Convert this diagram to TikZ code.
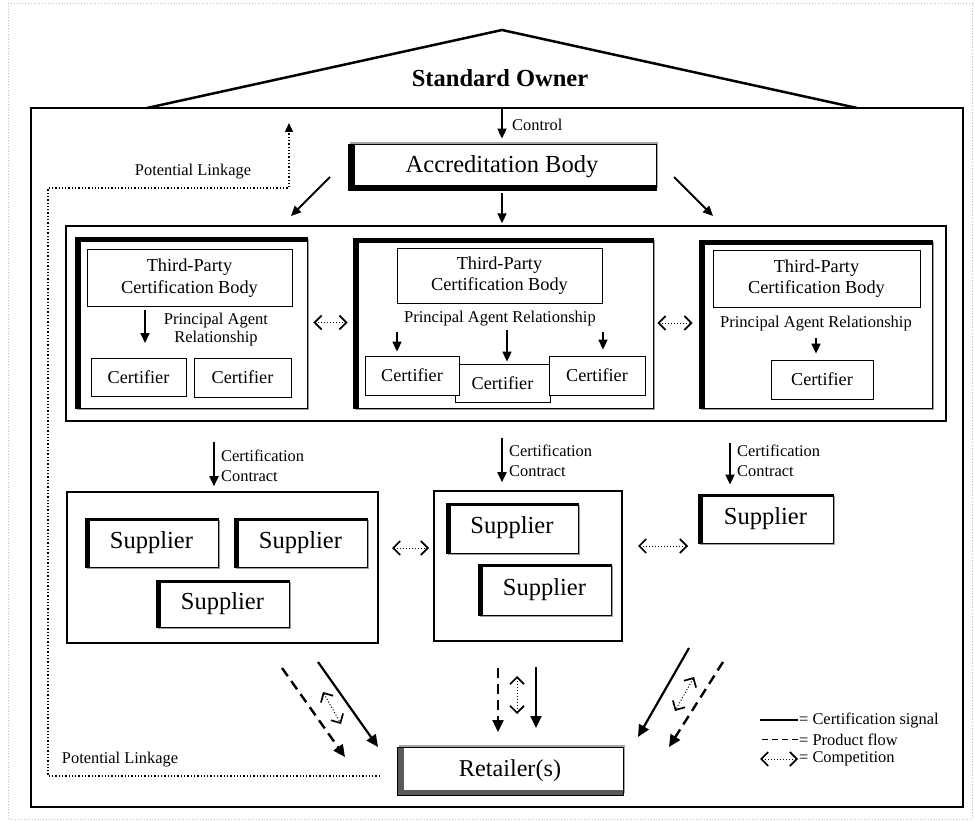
\documentclass[tikz,border=0pt]{standalone}
\usepackage{fontspec}
\setmainfont{Liberation Serif}
\usetikzlibrary{arrows.meta,shadows}

\newcommand{\fs}[2]{\fontsize{#1}{#2}\selectfont}

\begin{document}
\begin{tikzpicture}[x=1pt,y=-1pt,
	sig/.style={-{Triangle[length=10pt,width=9pt]},line width=1.8pt},
	sigbig/.style={-{Triangle[length=12pt,width=11pt]},line width=2.2pt},
	flow/.style={-{Triangle[length=12pt,width=11pt]},line width=2.4pt,dash pattern=on 10pt off 6pt},
	comp/.style={{Straight Barb[length=7pt,width=14pt,line width=1.7pt]}-{Straight Barb[length=7pt,width=14pt,line width=1.7pt]},line width=1pt,dotted},
	link/.style={line width=1.3pt,dotted},
	lbl/.style={inner sep=1pt,font=\fs{16.4}{19.5}},
	raised/.style 2 args={draw,fill=white,line width=0.8pt,inner sep=0,
		drop shadow={shadow xshift=1.8pt,shadow yshift=-1.8pt,fill=gray!75,opacity=1},
		path picture={\fill[black] (path picture bounding box.north west) rectangle ([xshift=#1]path picture bounding box.south west);
			\fill[black] (path picture bounding box.north west) rectangle ([yshift=-#2]path picture bounding box.north east);}},
	sunk/.style n args={3}{draw,fill=white,line width=0.8pt,inner sep=0,
		drop shadow={shadow xshift=1.8pt,shadow yshift=1.8pt,fill=gray!70,opacity=1},
		path picture={\fill[#3] (path picture bounding box.north west) rectangle ([xshift=#1]path picture bounding box.south west);
			\fill[#3] (path picture bounding box.south west) rectangle ([yshift=#2]path picture bounding box.south east);}},
	body/.style={draw,fill=white,line width=0.8pt,inner sep=0,align=center,font=\fs{18.3}{21.5},minimum width=205pt,minimum height=57pt},
	cert/.style={draw,fill=white,line width=0.8pt,inner sep=0,font=\fs{18.2}{20},minimum width=95pt,minimum height=38pt},
	sup/.style={raised={5pt}{3pt},font=\fs{24.5}{28},minimum width=133pt,minimum height=49pt},
	grp/.style={draw,line width=1.6pt,inner sep=0}]

	\useasboundingbox (0,0) rectangle (975,821);
	\draw[gray!50,dotted,line width=0.8pt] (8,3) rectangle (972,819);

	\node[draw,line width=2.5pt,inner sep=0,minimum width=932pt,minimum height=699pt] (mainbox) at (497,457.5) {};
	\draw[line width=2.5pt] (147,108) -- (502,30) -- (857,108);
	\node[font=\bfseries\fs{24.5}{28}] (owner) at (500,78) {Standard Owner};

	\coordinate (ctl) at (502,109);
	\node[sunk={7pt}{5pt}{black},font=\fs{24.5}{28},minimum width=308pt,minimum height=46pt] (accr) at (502,167) {Accreditation Body};
	\draw[sig,shorten >=5pt] (ctl) -- (accr.north);
	\node[lbl,anchor=west] (ctrl) at (511,125) {Control};

	\node[draw,line width=1.3pt,inner sep=0,minimum width=880pt,minimum height=195pt] (tprow) at (506,323.5) {};
	\coordinate (aL0) at (330,177);
	\coordinate (aL1) at (291,216);
	\coordinate (aR0) at (674,177);
	\coordinate (aR1) at (713,216);
	\draw[sig] (aL0) -- (aL1);
	\draw[sig] (aR0) -- (aR1);
	\draw[sig,shorten <=3pt,shorten >=2pt] (accr.south) -- (accr.south |- tprow.north);

	\node[raised={6pt}{5pt},minimum width=232pt,minimum height=171pt] (tpcL) at (191,322.5) {};
	\node[raised={6pt}{5pt},minimum width=300pt,minimum height=170pt] (tpcM) at (503,323) {};
	\node[raised={6pt}{5pt},minimum width=233pt,minimum height=168pt] (tpcR) at (815.5,324) {};

	\node[body] (bodyL) at (189.5,278) {Third-Party\\Certification Body};
	\node[body,minimum height=55pt] (bodyM) at (499.5,275.5) {Third-Party\\Certification Body};
	\node[body,minimum width=207pt] (bodyR) at (816.5,278.5) {Third-Party\\Certification Body};

	\node[lbl,align=center,font=\fs{16.5}{18}] (paL) at (216,330) {Principal Agent\\Relationship};
	\node[lbl,font=\fs{16.5}{18}] (paM) at (500,319) {Principal Agent Relationship};
	\node[lbl,font=\fs{16.5}{18}] (paR) at (816,324) {Principal Agent Relationship};

	\node[cert] (certL1) at (138.5,377.5) {Certifier};
	\node[cert,minimum width=97pt,minimum height=39pt] (certL2) at (242.5,377.5) {Certifier};
	\node[cert,minimum width=95pt] (certM2) at (502.5,383) {Certifier};
	\node[cert,minimum width=94pt,minimum height=39pt] (certM1) at (412,375.5) {Certifier};
	\node[cert,minimum width=96pt,minimum height=39pt] (certM3) at (597,375.5) {Certifier};
	\node[cert,minimum width=102pt,minimum height=39pt] (certR) at (822,379.5) {Certifier};

	\coordinate (pL0) at (145,310);
	\coordinate (pM0) at (397,332);
	\coordinate (pM1) at (507,330);
	\coordinate (pM2) at (603,332);
	\coordinate (pR0) at (816,338);
	\draw[sig,line width=1.6pt] (pL0) -- ++(0,33);
	\draw[sig,line width=1.6pt,shorten >=4pt] (pM0) -- (pM0 |- certM1.north);
	\draw[sig,line width=1.6pt,shorten >=2pt] (pM1) -- (pM1 |- certM2.north);
	\draw[sig,line width=1.6pt,shorten >=6pt] (pM2) -- (pM2 |- certM3.north);
	\draw[sig,line width=1.6pt,shorten >=6pt] (pR0) -- (pR0 |- certR.north);

	\draw[comp,shorten <=6pt,shorten >=5pt] (tpcL.east) -- (tpcL.east -| tpcM.west);
	\draw[comp,shorten <=4pt,shorten >=6pt] (tpcM.east) -- (tpcM.east -| tpcR.west);

	\node[grp,minimum width=311pt,minimum height=151pt] (grpL) at (222.5,567.5) {};
	\node[grp,minimum width=188pt,minimum height=150pt] (grpM) at (528,566) {};

	\node[sup] (supL1) at (151.5,542.5) {Supplier};
	\node[sup] (supL2) at (300.5,542.5) {Supplier};
	\node[sup,minimum height=47pt] (supL3) at (222.5,603.5) {Supplier};
	\node[sup,minimum width=132pt,minimum height=50pt] (supM1) at (512,528) {Supplier};
	\node[sup,minimum height=51pt] (supM2) at (544.5,589.5) {Supplier};
	\node[sup,minimum width=135pt] (supR) at (765.5,518.5) {Supplier};

	\coordinate (cL0) at (214,442);
	\coordinate (cM0) at (502,438);
	\coordinate (cR0) at (730,443);
	\draw[sig,shorten >=5pt] (cL0) -- (cL0 |- grpL.north);
	\draw[sig,shorten >=8pt] (cM0) -- (cM0 |- grpM.north);
	\draw[sig,shorten >=9pt] (cR0) -- (cR0 |- supR.north);
	\node[lbl,anchor=west,align=left] (ccL) at (220,466) {Certification\\Contract};
	\node[lbl,anchor=west,align=left] (ccM) at (508,461) {Certification\\Contract};
	\node[lbl,anchor=west,align=left] (ccR) at (736,461) {Certification\\Contract};

	\coordinate (kL0) at (392,548);
	\coordinate (kL1) at (429,548);
	\coordinate (kR0) at (638,546);
	\coordinate (kR1) at (688,546);
	\draw[comp] (kL0) -- (kL1);
	\draw[comp] (kR0) -- (kR1);

	\node[sunk={7pt}{5pt}{black!65},font=\fs{24.2}{28},minimum width=226pt,minimum height=48pt] (ret) at (510,771) {Retailer(s)};

	\coordinate (dL0) at (282,668);
	\coordinate (dL1) at (345,757);
	\coordinate (sL0) at (318,662);
	\coordinate (sL1) at (378,747);
	\coordinate (xL0) at (323,692);
	\coordinate (xL1) at (341,724);
	\coordinate (dM0) at (498,668);
	\coordinate (dM1) at (498,732);
	\coordinate (sM0) at (536,667);
	\coordinate (sM1) at (536,728);
	\coordinate (xM0) at (517,676);
	\coordinate (xM1) at (517,714);
	\coordinate (sR0) at (689,648);
	\coordinate (sR1) at (638,737);
	\coordinate (dR0) at (723,662);
	\coordinate (dR1) at (669,747);
	\coordinate (xR0) at (694,677);
	\coordinate (xR1) at (675,711);
	\draw[flow] (dL0) -- (dL1);
	\draw[sigbig] (sL0) -- (sL1);
	\draw[comp] (xL0) -- (xL1);
	\draw[flow] (dM0) -- (dM1);
	\draw[sigbig] (sM0) -- (sM1);
	\draw[comp] (xM0) -- (xM1);
	\draw[sigbig] (sR0) -- (sR1);
	\draw[flow] (dR0) -- (dR1);
	\draw[comp] (xR0) -- (xR1);

	\coordinate (lnkA) at (380,776);
	\coordinate (lnkB) at (48,188);
	\coordinate (lnkC) at (289,123);
	\draw[link,-{Triangle[length=9pt,width=8pt]}] (lnkA) -| (lnkB) -| (lnkC);
	\node[lbl] (lnkT) at (193,172) {Potential Linkage};
	\node[lbl] (lnkU) at (120,760) {Potential Linkage};

	\node[lbl,anchor=west] (lg1) at (798,720) {= Certification signal};
	\node[lbl,anchor=west] (lg2) at (798,739.5) {= Product flow};
	\node[lbl,anchor=west] (lg3) at (798,759) {= Competition};
	\draw[line width=1.6pt] (lg1.west) -- ++(-38,0);
	\draw[line width=1.6pt,dash pattern=on 6pt off 4pt] (lg2.west) -- ++(-38,0);
	\draw[comp] (lg3.west) -- ++(-38,0);
\end{tikzpicture}
\end{document}
